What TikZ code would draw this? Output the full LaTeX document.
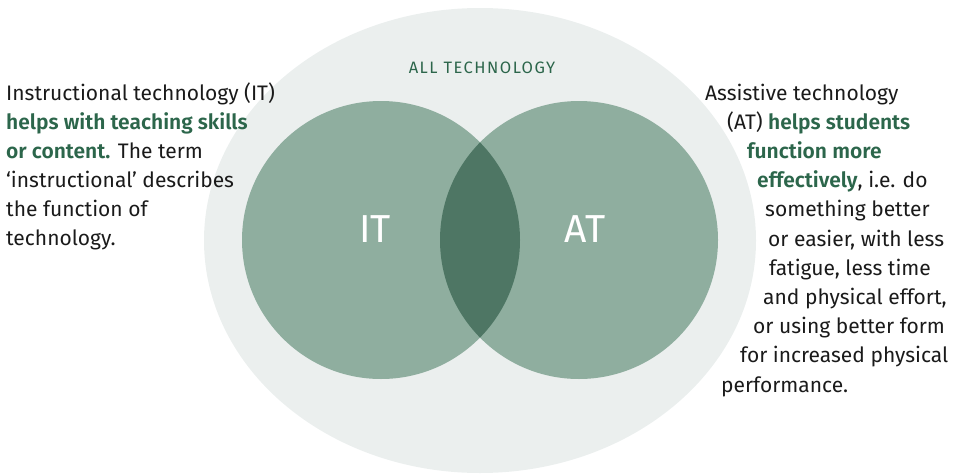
\documentclass[tikz,border=0pt]{standalone}
\usepackage{fontspec}
\usetikzlibrary{shapes.geometric}
\setmainfont{Fira Sans}[BoldFont={Fira Sans SemiBold}]
\definecolor{outerbg}{HTML}{EBEFEE}
\definecolor{setfill}{HTML}{8FAE9F}
\definecolor{overlapfill}{HTML}{4E7664}
\definecolor{accent}{HTML}{2C664B}
\definecolor{bodytext}{HTML}{1A1A1A}
\newcommand{\hl}[1]{{\bfseries\color{accent}#1}}
\tikzset{
  line/.style={anchor=base west, inner sep=0pt, text=bodytext,
    font=\fontsize{21}{29}\selectfont},
  setlabel/.style={anchor=base, inner sep=0pt, text=white,
    font=\fontsize{39}{44}\selectfont},
  setcircle/.style={circle, fill=setfill, minimum size=278pt, inner sep=0pt}
}
\begin{document}
\begin{tikzpicture}[x=1pt,y=-1pt]
\useasboundingbox (0,0) rectangle (959,474);
% universe of all technology
\node[ellipse, fill=outerbg, minimum width=552pt, minimum height=465pt, inner sep=0pt] (all) at (480,240.5) {};
% the two sets
\node[setcircle] (itset) at (381,240) {};
\node[setcircle] (atset) at (579,240) {};
\begin{scope}
  \clip (381,240) circle[radius=139];
  \fill[overlapfill] (579,240) circle[radius=139];
\end{scope}
% labels
\node[anchor=base, inner sep=0pt, text=accent, font=\fontsize{16.5}{18}\selectfont\addfontfeatures{LetterSpace=9}] (alllabel) at (482,73) {ALL TECHNOLOGY};
\node[setlabel] (itlabel) at (375,242) {IT};
\node[setlabel] (atlabel) at (585,242) {AT};
% instructional technology description
\node[line] (l1) at (6,100) {Instructional technology (IT)};
\node[line] (l2) at (6,129) {\hl{helps with teaching skills}};
\node[line] (l3) at (6,158) {\hl{or content.} The term};
\node[line] (l4) at (6,187) {‘instructional’ describes};
\node[line] (l5) at (6,216) {the function of};
\node[line] (l6) at (6,245) {technology.};
% assistive technology description
\node[line] (r1) at (705,100.0) {Assistive technology};
\node[line] (r2) at (727,129.2) {(AT) \hl{helps students}};
\node[line] (r3) at (747,158.4) {\hl{function more}};
\node[line] (r4) at (757,187.6) {\hl{effectively}, i.e. do};
\node[line] (r5) at (765,216.8) {something better};
\node[line] (r6) at (768,246.0) {or easier, with less};
\node[line] (r7) at (769,275.2) {fatigue, less time};
\node[line] (r8) at (763,304.4) {and physical effort,};
\node[line] (r9) at (753,333.6) {or using better form};
\node[line] (r10) at (740,362.8) {for increased physical};
\node[line] (r11) at (721,392.0) {performance.};
\end{tikzpicture}
\end{document}
